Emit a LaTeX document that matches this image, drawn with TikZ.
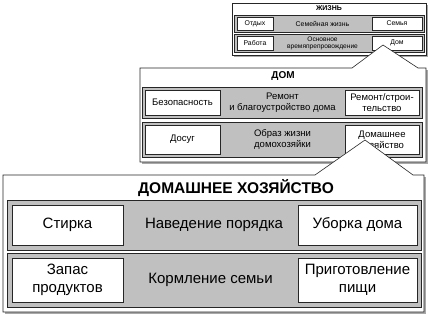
\documentclass[tikz,border=0pt]{standalone}
\usepackage{fontspec}
\setmainfont{Liberation Sans}
\usetikzlibrary{positioning}
\definecolor{rowgray}{HTML}{C0C0C0}
\definecolor{shadowgray}{HTML}{A8A8A8}

\begin{document}
\begin{tikzpicture}[x=1pt, y=-1pt,
            frame/.style={draw=black!85, line width=0.6pt, fill=white},
            shadow/.style={fill=shadowgray},
            rowbox/.style={draw=black!85, line width=0.7pt, fill=rowgray, inner sep=0pt, outer sep=0pt},
            itembox/.style={draw=black!85, line width=0.7pt, fill=white, align=center, inner sep=1pt, outer sep=0pt},
            midtext/.style={align=center},
            small/.style={font=\fontsize{6.9}{7.6}\selectfont},
            medium/.style={font=\fontsize{9.5}{11}\selectfont},
            large/.style={font=\fontsize{15}{18}\selectfont}
        ]
        \useasboundingbox (0,0) rectangle (430,315);

        % --- ЖИЗНЬ ---
        \fill[shadow] (234,5) rectangle (428,57);
        \draw[frame] (232,3) rectangle (426,55);
        \node[font=\bfseries\fontsize{7}{8}\selectfont] (T1) at (329,8.5) {ЖИЗНЬ};
        \node[rowbox, minimum width=190, minimum height=17] (R11) at (329.5,23.5) {};
        \node[rowbox, minimum width=190, minimum height=18] (R12) at (329.5,43) {};
        \node[itembox, small, minimum width=36, minimum height=13] (rest) at (255,23.5) {Отдых};
        \node[itembox, small, minimum width=50, minimum height=13] (family) at (397,23.5) {Семья};
        \node[itembox, small, minimum width=36, minimum height=14] (work) at (255,43) {Работа};
        \node[itembox, small, minimum width=50, minimum height=14] (home) at (397,43) {Дом};
        \node[midtext, small] (M11) at (322.5,23.5) {Семейная жизнь};
        \node[midtext, font=\fontsize{6.6}{7}\selectfont] (M12) at (322.5,43) {Основное\\времяпрепровождение};

        % --- ДОМ ---
        \coordinate (apexA) at (383,45);
        \coordinate (apexAl) at (352,68);
        \coordinate (apexAr) at (418,68);
        \fill[shadow] (142,70) rectangle (428,164);
        \draw[frame] (140,68) -- (apexAl) -- (apexA) -- (apexAr) -- (426,68) -- (426,162) -- (140,162) -- cycle;
        \node[font=\bfseries\fontsize{10}{12}\selectfont] (T2) at (283,76) {ДОМ};
        \node[rowbox, minimum width=280, minimum height=31] (R21) at (282,102.5) {};
        \node[rowbox, minimum width=280, minimum height=35] (R22) at (282,139.5) {};
        \node[itembox, medium, minimum width=75, minimum height=25] (safety) at (182.5,102.5) {Безопасность};
        \node[itembox, medium, minimum width=74, minimum height=25] (build) at (382,102.5) {Ремонт/строи-\\тельство};
        \node[itembox, medium, minimum width=75, minimum height=29] (leisure) at (182.5,139.5) {Досуг};
        \node[itembox, medium, minimum width=74, minimum height=29] (household) at (382,139.5) {Домашнее\\хозяйство};
        \node[midtext, medium] (M21) at (282.5,102.5) {Ремонт\\и благоустройство дома};
        \node[midtext, medium] (M22) at (282.5,139.5) {Образ жизни\\домохозяйки};

        % --- ДОМАШНЕЕ ХОЗЯЙСТВО ---
        \coordinate (apexB) at (365,140);
        \coordinate (apexBl) at (315,175);
        \coordinate (apexBr) at (413,175);
        \fill[shadow] (5,177) rectangle (426,314);
        \draw[frame] (3,175) -- (apexBl) -- (apexB) -- (apexBr) -- (424,175) -- (424,312) -- (3,312) -- cycle;
        \node[font=\bfseries\fontsize{15.5}{18}\selectfont] (T3) at (236,188) {ДОМАШНЕЕ ХОЗЯЙСТВО};
        \node[rowbox, minimum width=414, minimum height=50] (R31) at (214,225) {};
        \node[rowbox, minimum width=414, minimum height=54] (R32) at (214,280) {};
        \node[itembox, large, minimum width=111, minimum height=40] (laundry) at (67.5,225) {Стирка};
        \node[itembox, large, minimum width=119, minimum height=40] (cleaning) at (357.5,225) {Уборка дома};
        \node[itembox, large, minimum width=111, minimum height=44] (supplies) at (67.5,280) {Запас\\продуктов};
        \node[itembox, large, minimum width=119, minimum height=44] (cooking) at (357.5,280) {Приготовление\\пищи};
        \node[midtext, large] (M31) at (214,225) {Наведение порядка};
        \node[midtext, large] (M32) at (210.5,280) {Кормление семьи};

    \end{tikzpicture}
\end{document}
